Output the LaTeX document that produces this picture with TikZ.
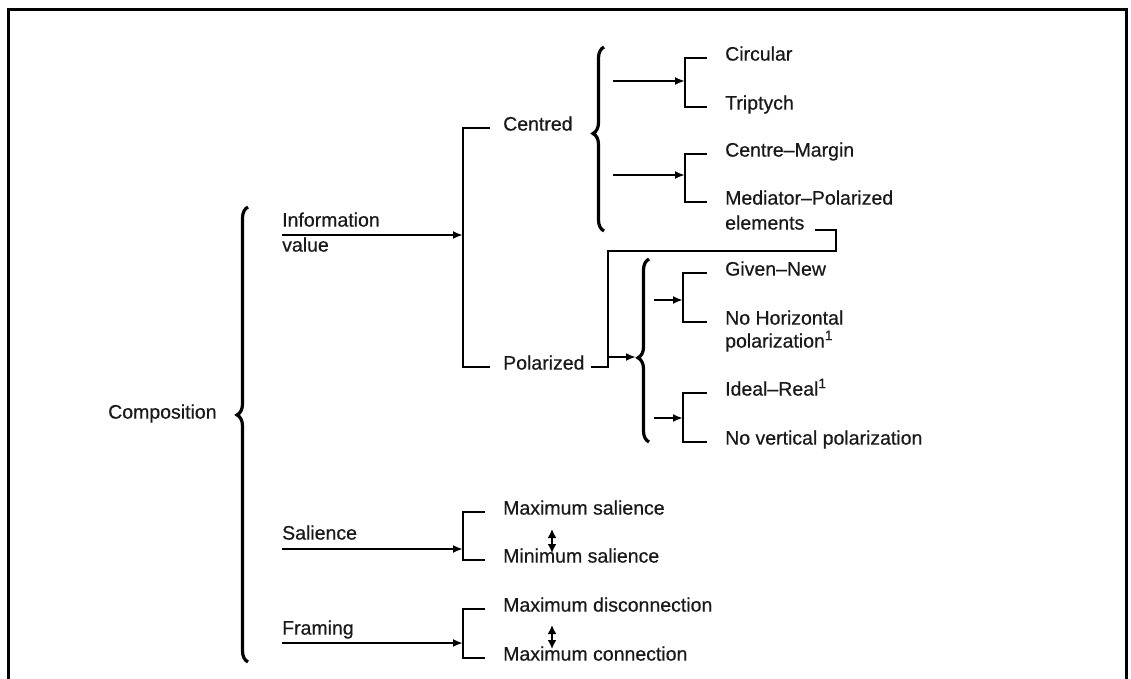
\documentclass[tikz,border=0pt]{standalone}
\usepackage{fontspec}
\setmainfont{Liberation Sans}
\newfontfamily\lblfont{Liberation Sans}[FakeBold=0.5]
\usetikzlibrary{arrows.meta,decorations.pathreplacing,calc}
\begin{document}
\begin{tikzpicture}[x=1pt,y=-1pt,
  lbl/.style={font=\lblfont\fontsize{19.5}{23}\selectfont, anchor=west, inner sep=0pt,
              text height=0.72em, text depth=0.2em, text=black!90},
  conn/.style={line width=2.1pt},
  tip/.style={-{Latex[length=10pt,width=8pt]}},
  dbl/.style={line width=2.2pt,{Latex[length=9pt,width=9pt]}-{Latex[length=9pt,width=9pt]}},
  curly/.style={line width=3.2pt, decorate, decoration={brace, amplitude=11pt, aspect=#1}},
  curly/.default=0.5]

\useasboundingbox (0,0) rectangle (1131,679);

% open frame
\draw[line width=3pt] (8,679) -- (8,10) -- (1126,10) -- (1126,679);

% ---- level 0
\node[lbl] (comp) at (108,416) {Composition};
\draw[curly=0.543] (248,662) -- (248,207);

% ---- level 1 labels
\node[lbl] (info) at (282,224) {Information};
\node[lbl] (val)  at (282,249) {value};
\node[lbl] (sal)  at (282,537) {Salience};
\node[lbl] (fra)  at (282,632) {Framing};

% ---- information value: centred / polarized
\node[lbl] (cen) at (503,128) {Centred};
\node[lbl] (pol) at (503,367) {Polarized};
\coordinate (iv) at (463,235);
\draw[conn] ($(cen.west)+(-13,0)$) -| (iv) |- ($(pol.west)+(-13,0)$);
\draw[conn,tip] ($(info.west)!0.5!(val.west)+(0,-1.5)$) -- (iv);

% centred brace and its two systems
\draw[curly=0.53] (604,231) -- (604,47);
\node[lbl] (circ) at (725,58)  {Circular};
\node[lbl] (trip) at (725,107) {Triptych};
\node[lbl] (cm)   at (725,154) {Centre–Margin};
\node[lbl] (mp)   at (725,202) {Mediator–Polarized};
\node[lbl] (el)   at (725,227) {elements};
\coordinate (k1) at (685,81);
\coordinate (a1) at (613,81);
\draw[conn] ($(circ.west)+(-18,0)$) -| (k1) |- ($(trip.west)+(-18,0)$);
\draw[conn,tip] (a1) -- (k1);
\coordinate (k2) at (685,175);
\coordinate (a2) at (613,175);
\draw[conn] ($(cm.west)+(-18,0)$) -| (k2) |- ($(mp.west)+(-18,0)$);
\draw[conn,tip] (a2) -- (k2);

% link from the mediator elements down to polarized
\coordinate (j1) at (836,251);
\coordinate (j2) at (608,367);
\draw[conn] ($(el.east)+(10,3)$) -| (j1) -| (j2) -- ($(pol.east)+(6,0)$);
\coordinate (a3) at (608,357);
\coordinate (pb) at (636,357);
\draw[conn,tip] (a3) -- (pb);

% polarized brace and its two systems
\draw[curly=0.46] (649,442) -- (649,259);
\node[lbl] (gn) at (725,273) {Given–New};
\node[lbl] (nh) at (725,322) {No Horizontal};
\node[lbl] (pz) at (725,345) {polarization\textsuperscript{1}};
\node[lbl] (ir) at (725,393) {Ideal–Real\textsuperscript{1}};
\node[lbl] (nv) at (725,442) {No vertical polarization};
\coordinate (k3) at (683,300);
\coordinate (a4) at (654,300);
\draw[conn] ($(gn.west)+(-18,0)$) -| (k3) |- ($(nh.west)+(-18,0)$);
\draw[conn,tip] (a4) -- (k3);
\coordinate (k4) at (683,418);
\coordinate (a5) at (654,418);
\draw[conn] ($(ir.west)+(-18,0)$) -| (k4) |- ($(nv.west)+(-18,0)$);
\draw[conn,tip] (a5) -- (k4);

% ---- salience
\node[lbl] (maxs) at (503,512) {Maximum salience};
\node[lbl] (mins) at (503,560) {Minimum salience};
\coordinate (k5) at (463,549);
\draw[conn] ($(maxs.west)+(-18,0)$) -| (k5) |- ($(mins.west)+(-18,0)$);
\draw[conn,tip] ($(sal.west)+(0,12)$) -- (k5);
\coordinate (d1) at (552,529);
\coordinate (d2) at (552,553);
\draw[dbl] (d1) -- (d2);

% ---- framing
\node[lbl] (maxd) at (503,609) {Maximum disconnection};
\node[lbl] (maxc) at (503,658) {Maximum connection};
\coordinate (k6) at (463,643);
\draw[conn] ($(maxd.west)+(-18,0)$) -| (k6) |- ($(maxc.west)+(-18,0)$);
\draw[conn,tip] ($(fra.west)+(0,11)$) -- (k6);
\coordinate (d3) at (552,625);
\coordinate (d4) at (552,649);
\draw[dbl] (d3) -- (d4);

\end{tikzpicture}
\end{document}
